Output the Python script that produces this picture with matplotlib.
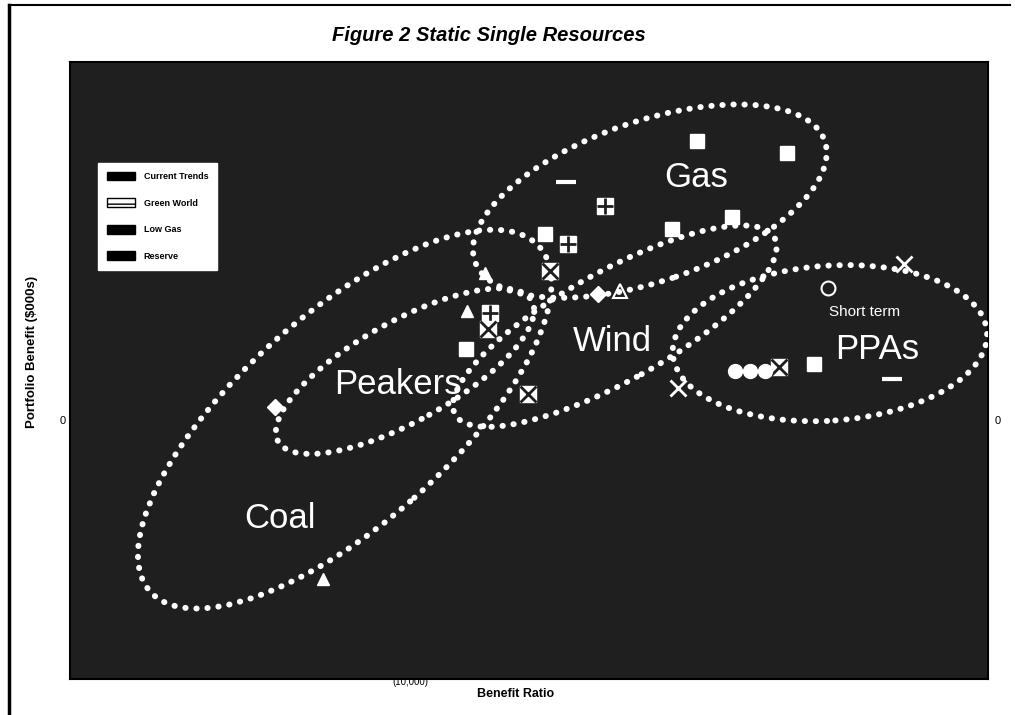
import matplotlib
matplotlib.use('Agg')
import matplotlib.pyplot as plt
from matplotlib.patches import Ellipse, Patch
from matplotlib.lines import Line2D
from matplotlib.transforms import ScaledTranslation

plt.rcParams['font.family'] = ['Liberation Sans', 'DejaVu Sans']

# series values (benefit ratio, portfolio benefit $000s)
ct_x = [1.093, 1.251, 1.049, 1.154, 0.828, 0.690, 1.298]
ct_y = [10930, 10464, 7507, 7974, 7313, 2840, 2256]

gw_x = [0.932, 0.868, 0.732]
gw_y = [8402, 6924, 4240]

lg_x = [0.837, 0.729, 1.237, 0.798]
lg_y = [5874, 3618, 2139, 1089]

rs_tri_x = [0.723, 0.692, 0.441]
rs_tri_y = [5796, 4318, -6107]
rs_tri_open_x = [0.959]
rs_tri_open_y = [5096]
rs_circ_x = [1.159, 1.185, 1.211]
rs_circ_y = [1984, 1984, 1984]
rs_open_x = [1.321]
rs_open_y = [5212]
rs_dia_x = [0.357, 0.920]
rs_dia_y = [583, 4979]
rs_dash_x = [0.864, 1.433]
rs_dash_y = [9336, 1673]
rs_cross_x = [1.454, 1.061]
rs_cross_y = [6146, 1323]

# resource groups: name, centre, size (in), angle
groups = ['Gas', 'Wind', 'PPAs', 'Peakers', 'Coal']
grp_cx = [1.011, 0.950, 1.325, 0.584, 0.479]
grp_cy = [8596, 3734, 3073, 1984, 117]
grp_w = [3.7, 3.65, 3.15, 2.9, 5.2]
grp_h = [1.6, 1.1, 1.55, 1.0, 2.1]
grp_ang = [19, 29, 4, 29, 41.5]

lab_x = [1.091, 0.945, 1.408, 0.572, 0.366]
lab_y = [9530, 3151, 2840, 1478, -3734]

series = ['Current Trends', 'Green World', 'Low Gas', 'Reserve']

bg = '#1f1f1f'

fig = plt.figure(figsize=(10.15, 7.15), dpi=100)
ax = fig.add_axes([0.069, 0.050, 0.904, 0.863])
ax.set_facecolor(bg)
ax.set_xlim(0, 1.6)
ax.set_ylim(-10000, 14000)
ax.set_autoscale_on(False)
ax.set_xticks([])
ax.set_yticks([])
for s in ax.spines.values():
    s.set_color('black')
    s.set_linewidth(1.5)

# ellipses around resource groups
for cx, cy, w, h, a in zip(grp_cx, grp_cy, grp_w, grp_h, grp_ang):
    tr = fig.dpi_scale_trans + ScaledTranslation(cx, cy, ax.transData)
    e = Ellipse((0, 0), w, h, angle=a, transform=tr, fill=False,
                edgecolor='white', linewidth=4.3, linestyle=(0, (0.05, 1.8)),
                capstyle='round', zorder=3)
    ax.add_patch(e)

for name, x, y in zip(groups, lab_x, lab_y):
    ax.text(x, y, name, color='white', fontsize=25, ha='center', va='center', zorder=5)
ax.text(1.386, 4279, 'Short term', color='white', fontsize=11, ha='center', va='center', zorder=5)

# markers
ax.plot(ct_x, ct_y, 's', color='white', ms=10, mec='white', ls='none', zorder=4)
ax.plot(gw_x, gw_y, 's', color='white', ms=11, ls='none', zorder=4)
ax.plot(gw_x, gw_y, '+', color=bg, ms=12, mew=2, ls='none', zorder=4)
ax.plot(lg_x, lg_y, 's', color='white', ms=11, ls='none', zorder=4)
ax.plot(lg_x, lg_y, 'x', color=bg, ms=11, mew=2, ls='none', zorder=4)
ax.plot(rs_tri_x, rs_tri_y, '^', color='white', ms=8, ls='none', zorder=4)
ax.plot(rs_tri_open_x, rs_tri_open_y, '^', mfc='none', mec='white', ms=10, mew=1.5, ls='none', zorder=4)
ax.plot(rs_circ_x, rs_circ_y, 'o', color='white', ms=10, ls='none', zorder=4)
ax.plot(rs_open_x, rs_open_y, 'o', mfc='none', mec='white', ms=10, mew=1.5, ls='none', zorder=4)
ax.plot(rs_dia_x, rs_dia_y, 'D', color='white', ms=8, ls='none', zorder=4)
ax.plot(rs_dash_x, rs_dash_y, '_', color='white', ms=14, mew=3, ls='none', zorder=4)
ax.plot(rs_cross_x, rs_cross_y, 'x', color='white', ms=12, mew=2, ls='none', zorder=4)

# legend
handles = [Patch(facecolor='black', edgecolor='black'),
           Patch(facecolor='white', edgecolor='black', hatch='--'),
           Patch(facecolor='black', edgecolor='black'),
           Patch(facecolor='black', edgecolor='black')]
leg = ax.legend(handles, series, loc='upper left', bbox_to_anchor=(0.030, 0.837),
                frameon=True, fancybox=False, facecolor='white', edgecolor='white',
                framealpha=1, labelspacing=1.9, handlelength=3.2, handleheight=1.1,
                handletextpad=0.9, borderpad=1.0, borderaxespad=0,
                prop={'size': 6.5, 'weight': 'bold'})
leg.set_zorder(6)

# axis labels and stray tick labels
fig.text(0.508, 0.030, 'Benefit Ratio', fontsize=9, fontweight='bold', ha='center', va='center')
fig.text(0.032, 0.508, 'Portfolio Benefit ($000s)', fontsize=9.5, fontweight='bold',
         rotation=90, ha='center', va='center')
fig.text(0.062, 0.411, '0', fontsize=8, ha='center', va='center')
fig.text(0.983, 0.411, '0', fontsize=8, ha='center', va='center')
fig.text(0.404, 0.046, '(10,000)', fontsize=7, ha='center', va='center', zorder=-1)

fig.text(0.482, 0.951, 'Figure 2 Static Single Resources', fontsize=14.5,
         fontweight='bold', fontstyle='italic', ha='center', va='center')

# page frame
fig.add_artist(Line2D([0.009, 0.009], [0.0, 0.993], color='black', lw=2.5))
fig.add_artist(Line2D([0.009, 0.995], [0.993, 0.993], color='black', lw=1.5))

fig.savefig('out.png', dpi=100)
